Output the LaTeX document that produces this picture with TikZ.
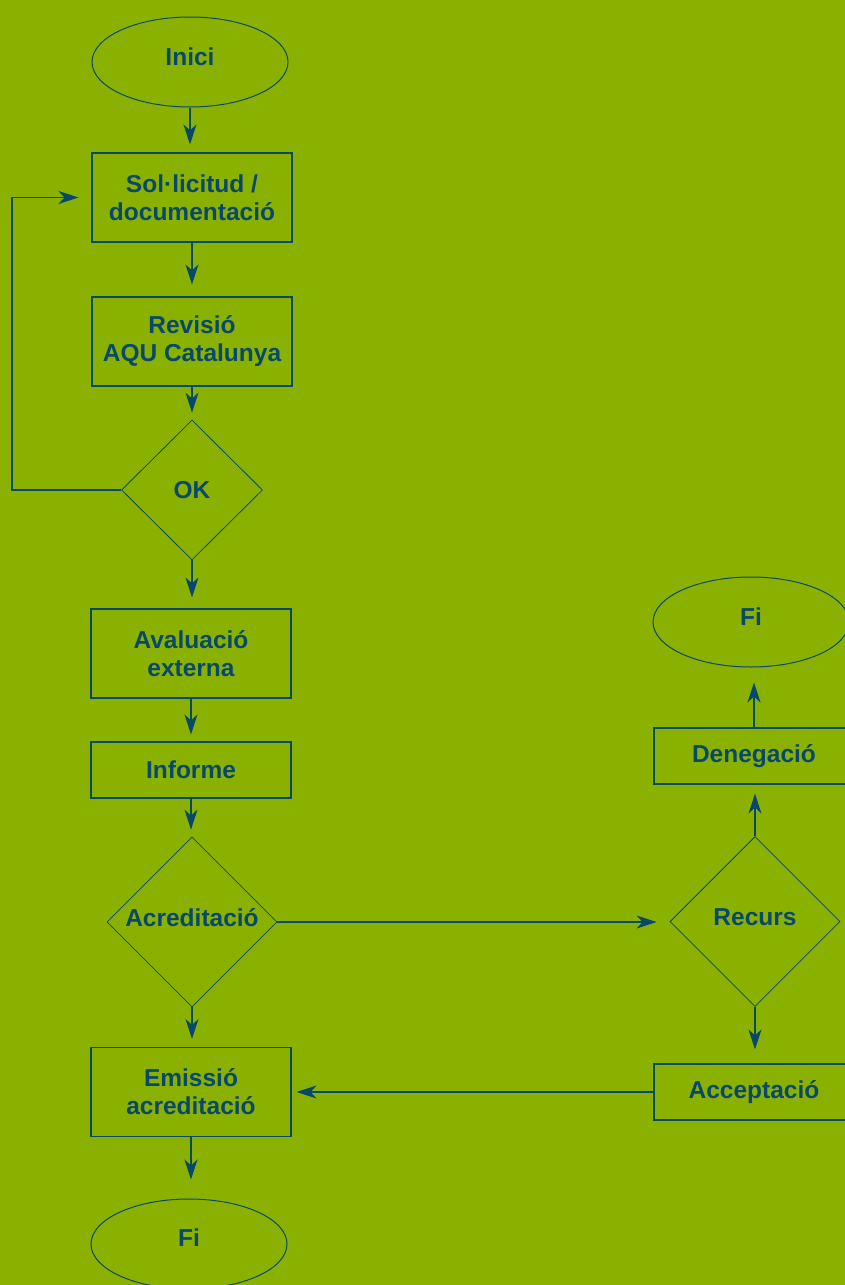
\documentclass[tikz,border=0pt]{standalone}
\usepackage{fontspec}
\setmainfont{Liberation Sans}
\usetikzlibrary{shapes.geometric,arrows.meta}
\definecolor{bg}{HTML}{8BB100}
\definecolor{ink}{HTML}{07486B}
\begin{document}
\begin{tikzpicture}[x=1pt,y=-1pt,
  every node/.style={text=ink,font=\fontsize{24.5}{28}\selectfont\bfseries,align=center,inner sep=0pt},
  term/.style={draw=ink,line width=1pt,ellipse,minimum width=196pt,minimum height=90pt},
  proc/.style={draw=ink,line width=1.1pt,rectangle,minimum width=200pt},
  tall/.style={minimum height=89pt},
  short/.style={minimum height=56pt},
  dec/.style={draw=ink,line width=0.8pt,diamond},
  arr/.style={draw=ink,line width=1.1pt,-{Stealth[length=20pt,width=13pt,inset=6pt]},shorten >=#1},
  arr/.default=8pt]
\clip (0,0) rectangle (845,1285);
\fill[bg] (0,0) rectangle (845,1285);
% left column
\node[term] (inici) at (190,62) {\raisebox{10pt}{Inici}};
\node[proc,tall] (sol) at (192,197.5) {Sol·licitud /\\documentació};
\node[proc,tall] (rev) at (192,341.5) {Revisió\\AQU Catalunya};
\node[dec,minimum width=141pt,minimum height=140pt] (ok) at (192,490) {OK};
\node[proc,tall] (aval) at (191,653.5) {Avaluació\\externa};
\node[proc,short] (inf) at (191,770) {Informe};
\node[dec,minimum width=170pt,minimum height=170pt] (acr) at (192,922) {\raisebox{8pt}{Acreditació}};
\node[proc,tall] (emi) at (191,1092) {Emissió\\acreditació};
\node[term] (fi1) at (189,1244) {\raisebox{12pt}{Fi}};
% right column
\node[term] (fi2) at (751,622) {\raisebox{10pt}{Fi}};
\node[proc,short] (den) at (754,756) {Denegació};
\node[dec,minimum width=170pt,minimum height=170pt] (rec) at (755,921.5) {\raisebox{8pt}{Recurs}};
\node[proc,short] (acc) at (754,1092) {Acceptació};
\coordinate (lp) at (12,490);
% connectors
\draw[arr] (inici.south) -- (inici.south |- sol.north);
\draw[arr=12pt] (sol.south) -- (sol.south |- rev.north);
\draw[arr=7pt] (rev.south) -- (rev.south |- ok.north);
\draw[arr=11pt] (ok.south) -- (ok.south |- aval.north);
\draw[arr=7pt] (aval.south) -- (aval.south |- inf.north);
\draw[arr=7pt] (inf.south) -- (inf.south |- acr.north);
\draw[arr] (acr.south) -- (acr.south |- emi.north);
\draw[arr=19pt] (emi.south) -- (emi.south |- fi1.north);
\draw[arr=13pt] (acr.east) -- (acr.east -| rec.west);
\draw[arr=14pt] (rec.south) -- (rec.south |- acc.north);
\draw[arr=9pt] (rec.north) -- (rec.north |- den.south);
\draw[arr=15pt] (den.north) -- (den.north |- fi2.south);
\draw[arr=5pt] (acc.west) -- (acc.west -| emi.east);
\draw[arr=13pt,line width=1.8pt] (ok.west) -- (lp) |- (sol.west);
\end{tikzpicture}
\end{document}
